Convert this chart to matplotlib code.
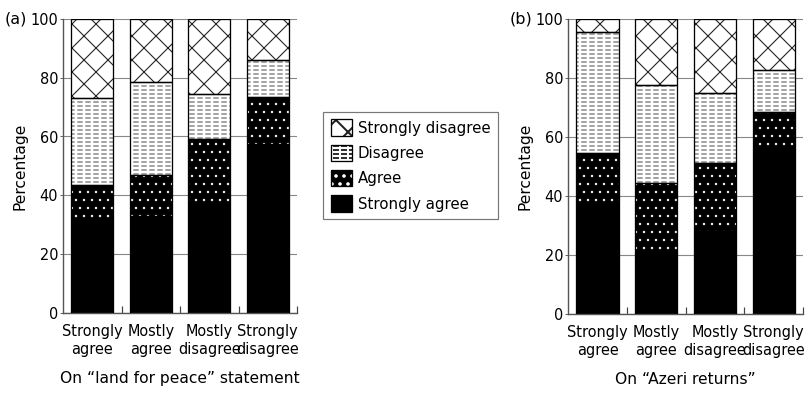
import matplotlib.pyplot as plt
from matplotlib.patches import Patch
from matplotlib.legend_handler import HandlerTuple
import numpy as np

DPI = 144  # hatch unit = 144 px -> 4/8/12 px pattern steps


def px(n):
    # pixels -> points at this dpi
    return n * 72.0 / DPI


categories = ['Strongly\nagree', 'Mostly\nagree', 'Mostly\ndisagree', 'Strongly\ndisagree']
responses = ['Strongly agree', 'Agree', 'Disagree', 'Strongly disagree']

# (a) On "land for peace" statement
land_sa = [32, 33, 37.5, 57.5]
land_a = [11.5, 14, 21.5, 16]
land_d = [29.5, 31.5, 15.5, 12.5]
land_sd = [27, 21.5, 25.5, 14]

# (b) On "Azeri returns"
azeri_sa = [36.5, 20.5, 28, 56]
azeri_a = [18, 24, 23, 12.5]
azeri_d = [41, 33, 24, 14]
azeri_sd = [4.5, 22.5, 25, 17.5]

yticks = [0, 20, 40, 60, 80, 100]

plt.rcParams['font.family'] = 'DejaVu Sans'
FS = px(14.5)

# each response is a list of overlaid layers (second item = hatch linewidth)
styles = {
    'Strongly agree': [(dict(facecolor='black', edgecolor='black', linewidth=0), None)],
    'Agree': [(dict(facecolor='black', edgecolor='white', hatch='...', linewidth=0), px(0.8))],
    'Disagree': [(dict(facecolor='white', edgecolor='#333333', hatch='------', linewidth=0), px(0.9)),
                 (dict(fill=False, edgecolor='white', hatch='|||', linewidth=0), px(2.6))],
    'Strongly disagree': [(dict(facecolor='white', edgecolor='#222222', hatch='xx', linewidth=0), px(1.1))],
}


def draw_panel(ax, series, tag, xlabel):
    x = np.arange(len(categories))
    w = 0.72
    bottom = np.zeros(len(categories))
    for name, vals in zip(responses, series):
        vals = np.array(vals, dtype=float)
        for st, hw in styles[name]:
            bars = ax.bar(x, vals, w, bottom=bottom, zorder=2, **st)
            if hw is not None:
                for b in bars:
                    b.set_hatch_linewidth(hw)
        ax.bar(x, vals, w, bottom=bottom, fill=False, edgecolor='black',
               linewidth=px(1.3), zorder=3)
        bottom += vals

    ax.set_xlim(-0.5, len(categories) - 0.5)
    ax.set_ylim(0, 100)
    ax.set_yticks(yticks)
    ax.set_xticks(x)
    ax.set_xticklabels(categories, fontsize=FS, linespacing=1.2)
    ax.set_xticks(list(x + 0.5), minor=True)
    ax.tick_params(axis='x', which='major', length=0, pad=px(11))
    ax.tick_params(axis='x', which='minor', direction='in', length=px(7),
                   width=px(1.2), color='#444444')
    ax.tick_params(axis='y', length=px(3), width=px(1), color='#666666',
                   labelsize=FS, pad=px(2))
    ax.yaxis.grid(True, color='#888888', linewidth=px(1.1), zorder=0)
    ax.set_axisbelow(True)
    for s in ['top', 'right']:
        ax.spines[s].set_visible(False)
    for s in ['left', 'bottom']:
        ax.spines[s].set_color('#555555')
        ax.spines[s].set_linewidth(px(1.4))
    ax.set_ylabel('Percentage', fontsize=px(15.5), labelpad=px(3))
    ax.set_xlabel(xlabel, fontsize=px(15.5), labelpad=px(14))
    ax.text(-0.25, 1.0, tag, transform=ax.transAxes, fontsize=px(16),
            ha='left', va='center')


fig = plt.figure(figsize=(812.2 / DPI, 393.2 / DPI), dpi=DPI)
ax1 = fig.add_axes([63 / 812, 1 - 313 / 393, 234 / 812, 294 / 393])
ax2 = fig.add_axes([568 / 812, 1 - 314 / 393, 235 / 812, 295 / 393])

draw_panel(ax1, [land_sa, land_a, land_d, land_sd], '(a)',
           'On \u201cland for peace\u201d statement')
draw_panel(ax2, [azeri_sa, azeri_a, azeri_d, azeri_sd], '(b)',
           'On \u201cAzeri returns\u201d')

# legend, each handle is the same stack of layers plus an outline
handles = []
for name in responses[::-1]:
    parts = []
    for st, hw in styles[name]:
        p = Patch(**st)
        if hw is not None:
            p.set_hatch_linewidth(hw)
        parts.append(p)
    parts.append(Patch(fill=False, edgecolor='black', linewidth=px(1.3)))
    handles.append(tuple(parts))

leg = fig.legend(handles, responses[::-1], loc='upper left',
                 bbox_to_anchor=(323 / 812, 1 - 112 / 393),
                 handler_map={tuple: HandlerTuple(ndivide=1, pad=0)},
                 fontsize=px(15), frameon=True, fancybox=False,
                 edgecolor='#555555', handlelength=1.45, handleheight=1.3,
                 labelspacing=0.6, handletextpad=0.35, borderpad=0.5,
                 borderaxespad=0)
leg.get_frame().set_linewidth(px(1.2))

fig.savefig('out.png', dpi=DPI)
